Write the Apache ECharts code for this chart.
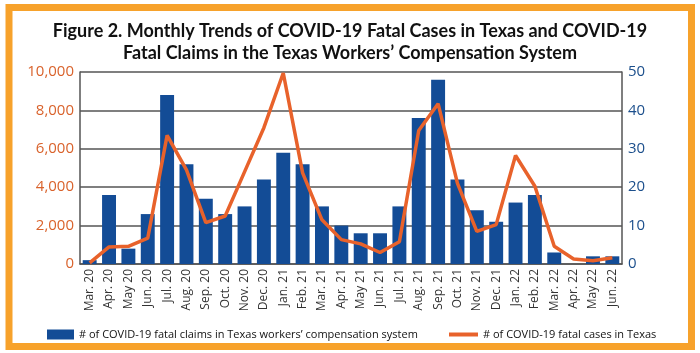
<!DOCTYPE html>
<html>
<head>
<meta charset="utf-8">
<title>Figure 2</title>
<script src="https://cdn.jsdelivr.net/npm/echarts@6/dist/echarts.min.js"></script>
<style>
    html, body {margin: 0; padding: 0; background: #fff;}
    #chart {width: 700px; height: 353px;}
</style>
</head>
<body>
<div id="chart"></div>
<script>
var months = ['Mar. 20', 'Apr. 20', 'May 20', 'Jun. 20', 'Jul. 20', 'Aug. 20', 'Sep. 20', 'Oct. 20',
    'Nov. 20', 'Dec. 20', 'Jan. 21', 'Feb. 21', 'Mar. 21', 'Apr. 21', 'May 21', 'Jun. 21', 'Jul. 21',
    'Aug. 21', 'Sep. 21', 'Oct. 21', 'Nov. 21', 'Dec. 21', 'Jan. 22', 'Feb. 22', 'Mar. 22', 'Apr. 22',
    'May 22', 'Jun. 22'];
// fatal claims (right axis)
var fatalClaims = [1, 18, 4, 13, 44, 26, 17, 13, 15, 22, 29, 26, 15, 10, 8, 8, 15, 38, 48, 22, 14, 11,
    16, 18, 3, 0, 2, 2];
// fatal cases in Texas (left axis)
var fatalCases = [60, 890, 920, 1350, 6700, 4900, 2150, 2500, 4800, 7100, 9950, 4750, 2300, 1270, 1050,
    600, 1160, 6950, 8350, 4200, 1700, 2050, 5650, 4050, 920, 260, 170, 330];
var casesTicks = {min: 0, max: 10000, interval: 2000};
var claimsTicks = {min: 0, max: 50, interval: 10};

var claimsName = '# of COVID-19 fatal claims in Texas workers\u2019 compensation system';
var casesName = '# of COVID-19 fatal cases in Texas';

var blue = '#134c96';
var orange = '#e8622b';
var font = '"Open Sans", sans-serif';

var myChart = echarts.init(document.getElementById('chart'));

var option = {
    backgroundColor: '#fff',
    animation: false,
    title: {
        text: 'Figure 2. Monthly Trends of COVID-19 Fatal Cases in Texas and COVID-19\nFatal Claims in the Texas Workers\u2019 Compensation System',
        left: 'center',
        top: 15,
        textStyle: {
            fontFamily: 'Lato, sans-serif',
            fontWeight: 'bold',
            fontSize: 18,
            lineHeight: 22,
            color: '#111'
        }
    },
    graphic: [{
        type: 'rect',
        shape: {x: 9, y: 7.5, width: 682.5, height: 339},
        style: {fill: 'none', stroke: '#f7a22b', lineWidth: 7},
        silent: true
    }],
    legend: [{
        data: [claimsName],
        left: 42,
        top: 324,
        icon: 'rect',
        itemWidth: 27,
        itemHeight: 10,
        itemGap: 6,
        textStyle: {fontFamily: font, fontSize: 11, color: '#111'}
    }, {
        data: [casesName],
        left: 444,
        top: 324,
        icon: 'rect',
        itemWidth: 29,
        itemHeight: 4,
        textStyle: {fontFamily: font, fontSize: 11, color: '#111'}
    }],
    grid: {
        left: 80,
        right: 78,
        top: 72,
        bottom: 89
    },
    xAxis: [{
        type: 'category',
        data: months,
        axisLine: {lineStyle: {color: '#555', width: 1.5}},
        axisTick: {inside: true, length: 4, lineStyle: {color: '#aaa'}},
        axisLabel: {
            rotate: 90,
            margin: 5,
            interval: 0,
            fontFamily: font,
            fontSize: 12,
            color: '#333'
        }
    }],
    yAxis: [{
        type: 'value',
        min: casesTicks.min,
        max: casesTicks.max,
        interval: casesTicks.interval,
        axisLine: {show: true, lineStyle: {color: '#555', width: 1.5}},
        axisTick: {show: false},
        splitLine: {lineStyle: {color: '#555', width: 1.5}},
        axisLabel: {
            margin: 6,
            fontFamily: font,
            fontSize: 15,
            color: '#d9622b',
            formatter: function (v) {
                return v.toLocaleString('en-US');
            }
        }
    }, {
        type: 'value',
        min: claimsTicks.min,
        max: claimsTicks.max,
        interval: claimsTicks.interval,
        axisLine: {show: true, lineStyle: {color: '#555', width: 1.5}},
        axisTick: {show: false},
        splitLine: {show: false},
        axisLabel: {
            margin: 6,
            fontFamily: font,
            fontSize: 15,
            color: '#1c4f8c'
        }
    }],
    series: [{
        name: claimsName,
        type: 'bar',
        yAxisIndex: 1,
        data: fatalClaims,
        barCategoryGap: '28%',
        itemStyle: {color: blue}
    }, {
        name: casesName,
        type: 'line',
        yAxisIndex: 0,
        data: fatalCases,
        symbol: 'none',
        lineStyle: {color: orange, width: 3.5},
        itemStyle: {color: orange}
    }]
};

myChart.setOption(option);
</script>
</body>
</html>
